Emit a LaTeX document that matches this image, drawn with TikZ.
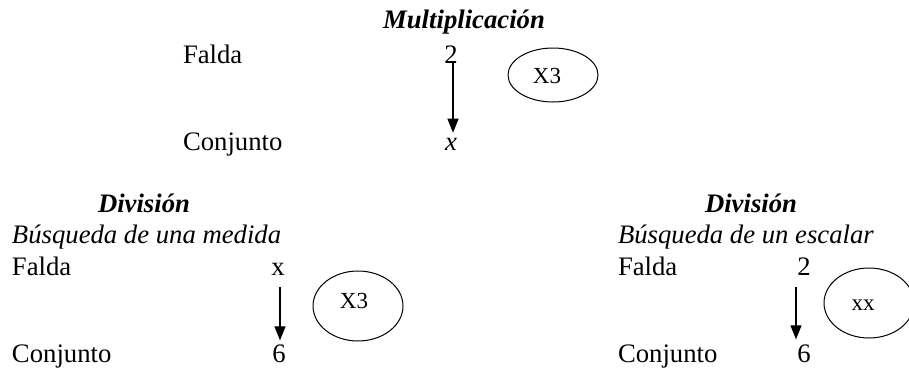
\documentclass[tikz,border=0pt]{standalone}
\usepackage{fontspec}
\setmainfont{Liberation Serif}
\usetikzlibrary{arrows.meta,shapes.geometric}
\begin{document}
\begin{tikzpicture}[x=1pt,y=-1pt,
  txt/.style={inner sep=0pt,outer sep=0pt,font=\fontsize{26.7}{32}\selectfont},
  lbl/.style={txt,anchor=base west},
  val/.style={txt,anchor=base},
  ttl/.style={txt,anchor=base,font=\fontsize{26.7}{32}\selectfont\bfseries\itshape},
  sub/.style={lbl,font=\fontsize{26.7}{32}\selectfont\itshape},
  oval/.style={draw,ellipse,line width=1pt,inner sep=0pt},
  factor/.style={inner sep=0pt,anchor=base,font=\fontsize{23}{28}\selectfont},
  arr/.style={line width=1.2pt,-{Triangle[length=14pt,width=11pt]}}]
\useasboundingbox (0,0) rectangle (909,370);

% Multiplicación
\node[ttl] (tm) at (464,28) {Multiplicación};
\node[lbl] (mf) at (183,63) {Falda};
\node[val] (m2) at (451,63) {2};
\node[lbl] (mc) at (183,150) {Conjunto};
\node[val] (mx) at (451,150) {\itshape x};
\node[oval,minimum width=90pt,minimum height=54pt] (me) at (553,75) {};
\node[factor] (mk) at (547,83) {X3};
\draw[arr,shorten >=5pt] ([xshift=2pt]m2.south) -- ([xshift=2pt]mx.north);

% División: búsqueda de una medida
\node[ttl] (tl) at (144,212) {División};
\node[sub] (sl) at (12,243) {Búsqueda de una medida};
\node[lbl] (lf) at (12,275) {Falda};
\node[val] (lx) at (278,275) {x};
\node[lbl] (lc) at (12,362) {Conjunto};
\node[val] (l6) at (279,362) {6};
\node[oval,minimum width=90pt,minimum height=70pt] (le) at (358,306) {};
\node[factor] (lk) at (354,308) {X3};
\draw[arr,shorten <=12pt,shorten >=4pt] ([xshift=2pt]lx.south) -- ([xshift=1pt]l6.north);

% División: búsqueda de un escalar
\node[ttl] (tr) at (751,212) {División};
\node[sub] (sr) at (618,243) {Búsqueda de un escalar};
\node[lbl] (rf) at (618,275) {Falda};
\node[val] (r2) at (804,275) {2};
\node[lbl] (rc) at (618,362) {Conjunto};
\node[val] (r6) at (804,362) {6};
\node[oval,minimum width=90pt,minimum height=70pt] (re) at (869,303) {};
\node[factor] (rk) at (863,310) {xx};
\draw[arr,shorten <=12pt,shorten >=5pt] ([xshift=-8pt]r2.south) -- ([xshift=-8pt]r6.north);
\end{tikzpicture}
\end{document}
